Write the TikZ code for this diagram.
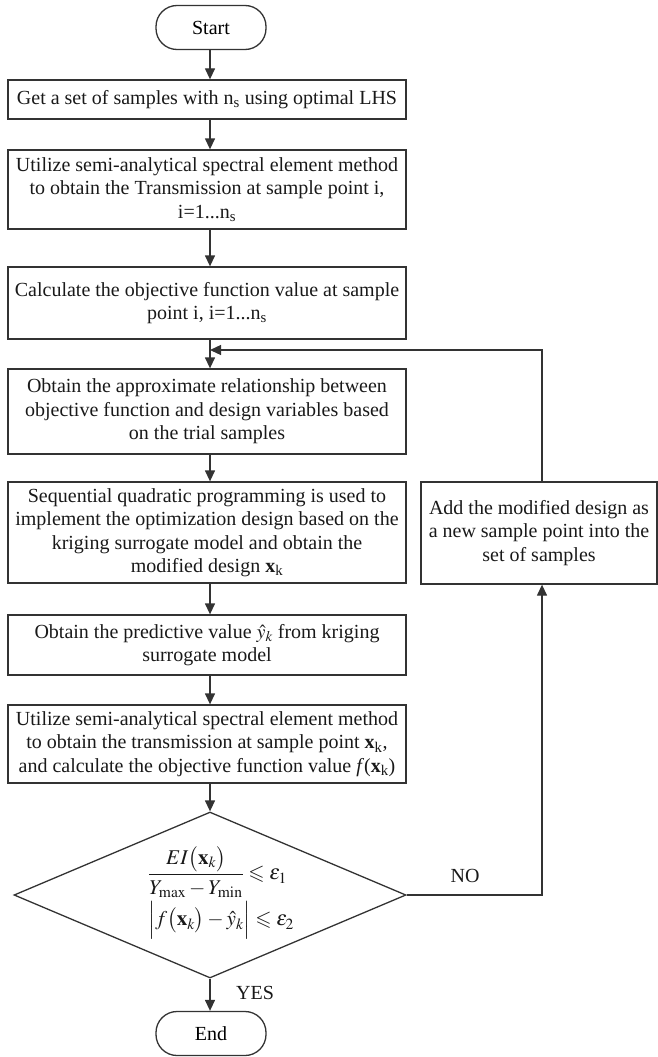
\documentclass[tikz,border=0pt]{standalone}
\usepackage{mathptmx}
\usepackage{amssymb}
\usepackage[no-math]{fontspec}
\setmainfont{Liberation Serif}
\usetikzlibrary{arrows.meta,shapes.geometric}
\tikzset{
  ln/.style={draw=black!80, line width=1.3pt},
  box/.style={ln, rectangle, align=center, inner sep=0pt, text=black!90,
    font=\fontsize{20}{23.5}\selectfont, minimum width=398pt},
  term/.style={ln, rectangle, rounded corners=21pt, minimum width=110pt,
    minimum height=44pt, inner sep=0pt, font=\fontsize{20}{23.5}\selectfont},
  arr/.style={ln, -{Triangle[length=11pt,width=10pt]}},
  lbl/.style={font=\fontsize{20}{23.5}\selectfont, text=black!90, inner sep=0pt}
}
\begin{document}
\begin{tikzpicture}[x=1pt,y=-1pt]
\useasboundingbox (0,0) rectangle (658,1057);
\node[term] (start) at (211,27.5) {Start};
\node[box, minimum height=39pt] (b1) at (207,99.5) {Get a set of samples with n\textsubscript{s} using optimal LHS};
\node[box, minimum height=79pt] (b2) at (207,189.5) {Utilize semi-analytical spectral element method\\ to obtain the Transmission at sample point i,\\ i=1...n\textsubscript{s}};
\node[box, minimum height=72pt] (b3) at (207,303) {Calculate the objective function value at sample\\ point i, i=1...n\textsubscript{s}};
\node[box, minimum height=85pt] (b4) at (207,411.5) {Obtain the approximate relationship between\\ objective function and design variables based\\ on the trial samples};
\node[box, minimum height=101pt] (b5) at (207,532.5) {Sequential quadratic programming is used to\\ implement the optimization design based on the\\ kriging surrogate model and obtain the\\ modified design \textbf{x}\textsubscript{k}};
\node[box, minimum height=60pt] (b6) at (207,645) {Obtain the predictive value $\hat{y}_k$ from kriging\\ surrogate model};
\node[box, minimum height=78pt] (b7) at (207,744) {Utilize semi-analytical spectral element method\\ to obtain the transmission at sample point \textbf{x}\textsubscript{k},\\ and calculate the objective function value \textit{f}(\textbf{x}\textsubscript{k})};
\node[ln, diamond, minimum width=392pt, minimum height=166pt, inner sep=0pt, aspect=2.36] (dia) at (210,895) {};
\node[lbl, align=left, font=\fontsize{21}{25}\selectfont] (cond) at (221,893) {$\displaystyle\frac{EI\bigl(\mathbf{x}_k\bigr)}{Y_{\max}-Y_{\min}}\leqslant\varepsilon_1$\\[3pt] $\Bigl|f\bigl(\mathbf{x}_k\bigr)-\hat{y}_k\Bigr|\leqslant\varepsilon_2$};
\node[term] (end) at (211,1033.5) {End};
\node[box, minimum width=236pt, minimum height=102pt] (b8) at (539,533) {Add the modified design as\\ a new sample point into the\\ set of samples};
\coordinate (j) at (210,350);
\coordinate (c1) at (542,895);
\coordinate (c2) at (542,350);
\draw[arr] (start.south -| j) -- (b1.north -| j);
\draw[arr] (b1.south -| j) -- (b2.north -| j);
\draw[arr] (b2.south -| j) -- (b3.north -| j);
\draw[arr] (b3.south -| j) -- (b4.north -| j);
\draw[arr] (b4.south -| j) -- (b5.north -| j);
\draw[arr] (b5.south -| j) -- (b6.north -| j);
\draw[arr] (b6.south -| j) -- (b7.north -| j);
\draw[arr] (b7.south -| j) -- (dia.north);
\draw[arr] (dia.south) -- (end.north -| dia.south);
\draw[arr] (dia.east) -- (c1) -- (b8.south -| c1);
\draw[arr] (b8.north -| c2) -- (c2) -- (j);
\node[lbl] (no) at (465,876) {NO};
\node[lbl] (yes) at (255,992.5) {YES};
\end{tikzpicture}
\end{document}
